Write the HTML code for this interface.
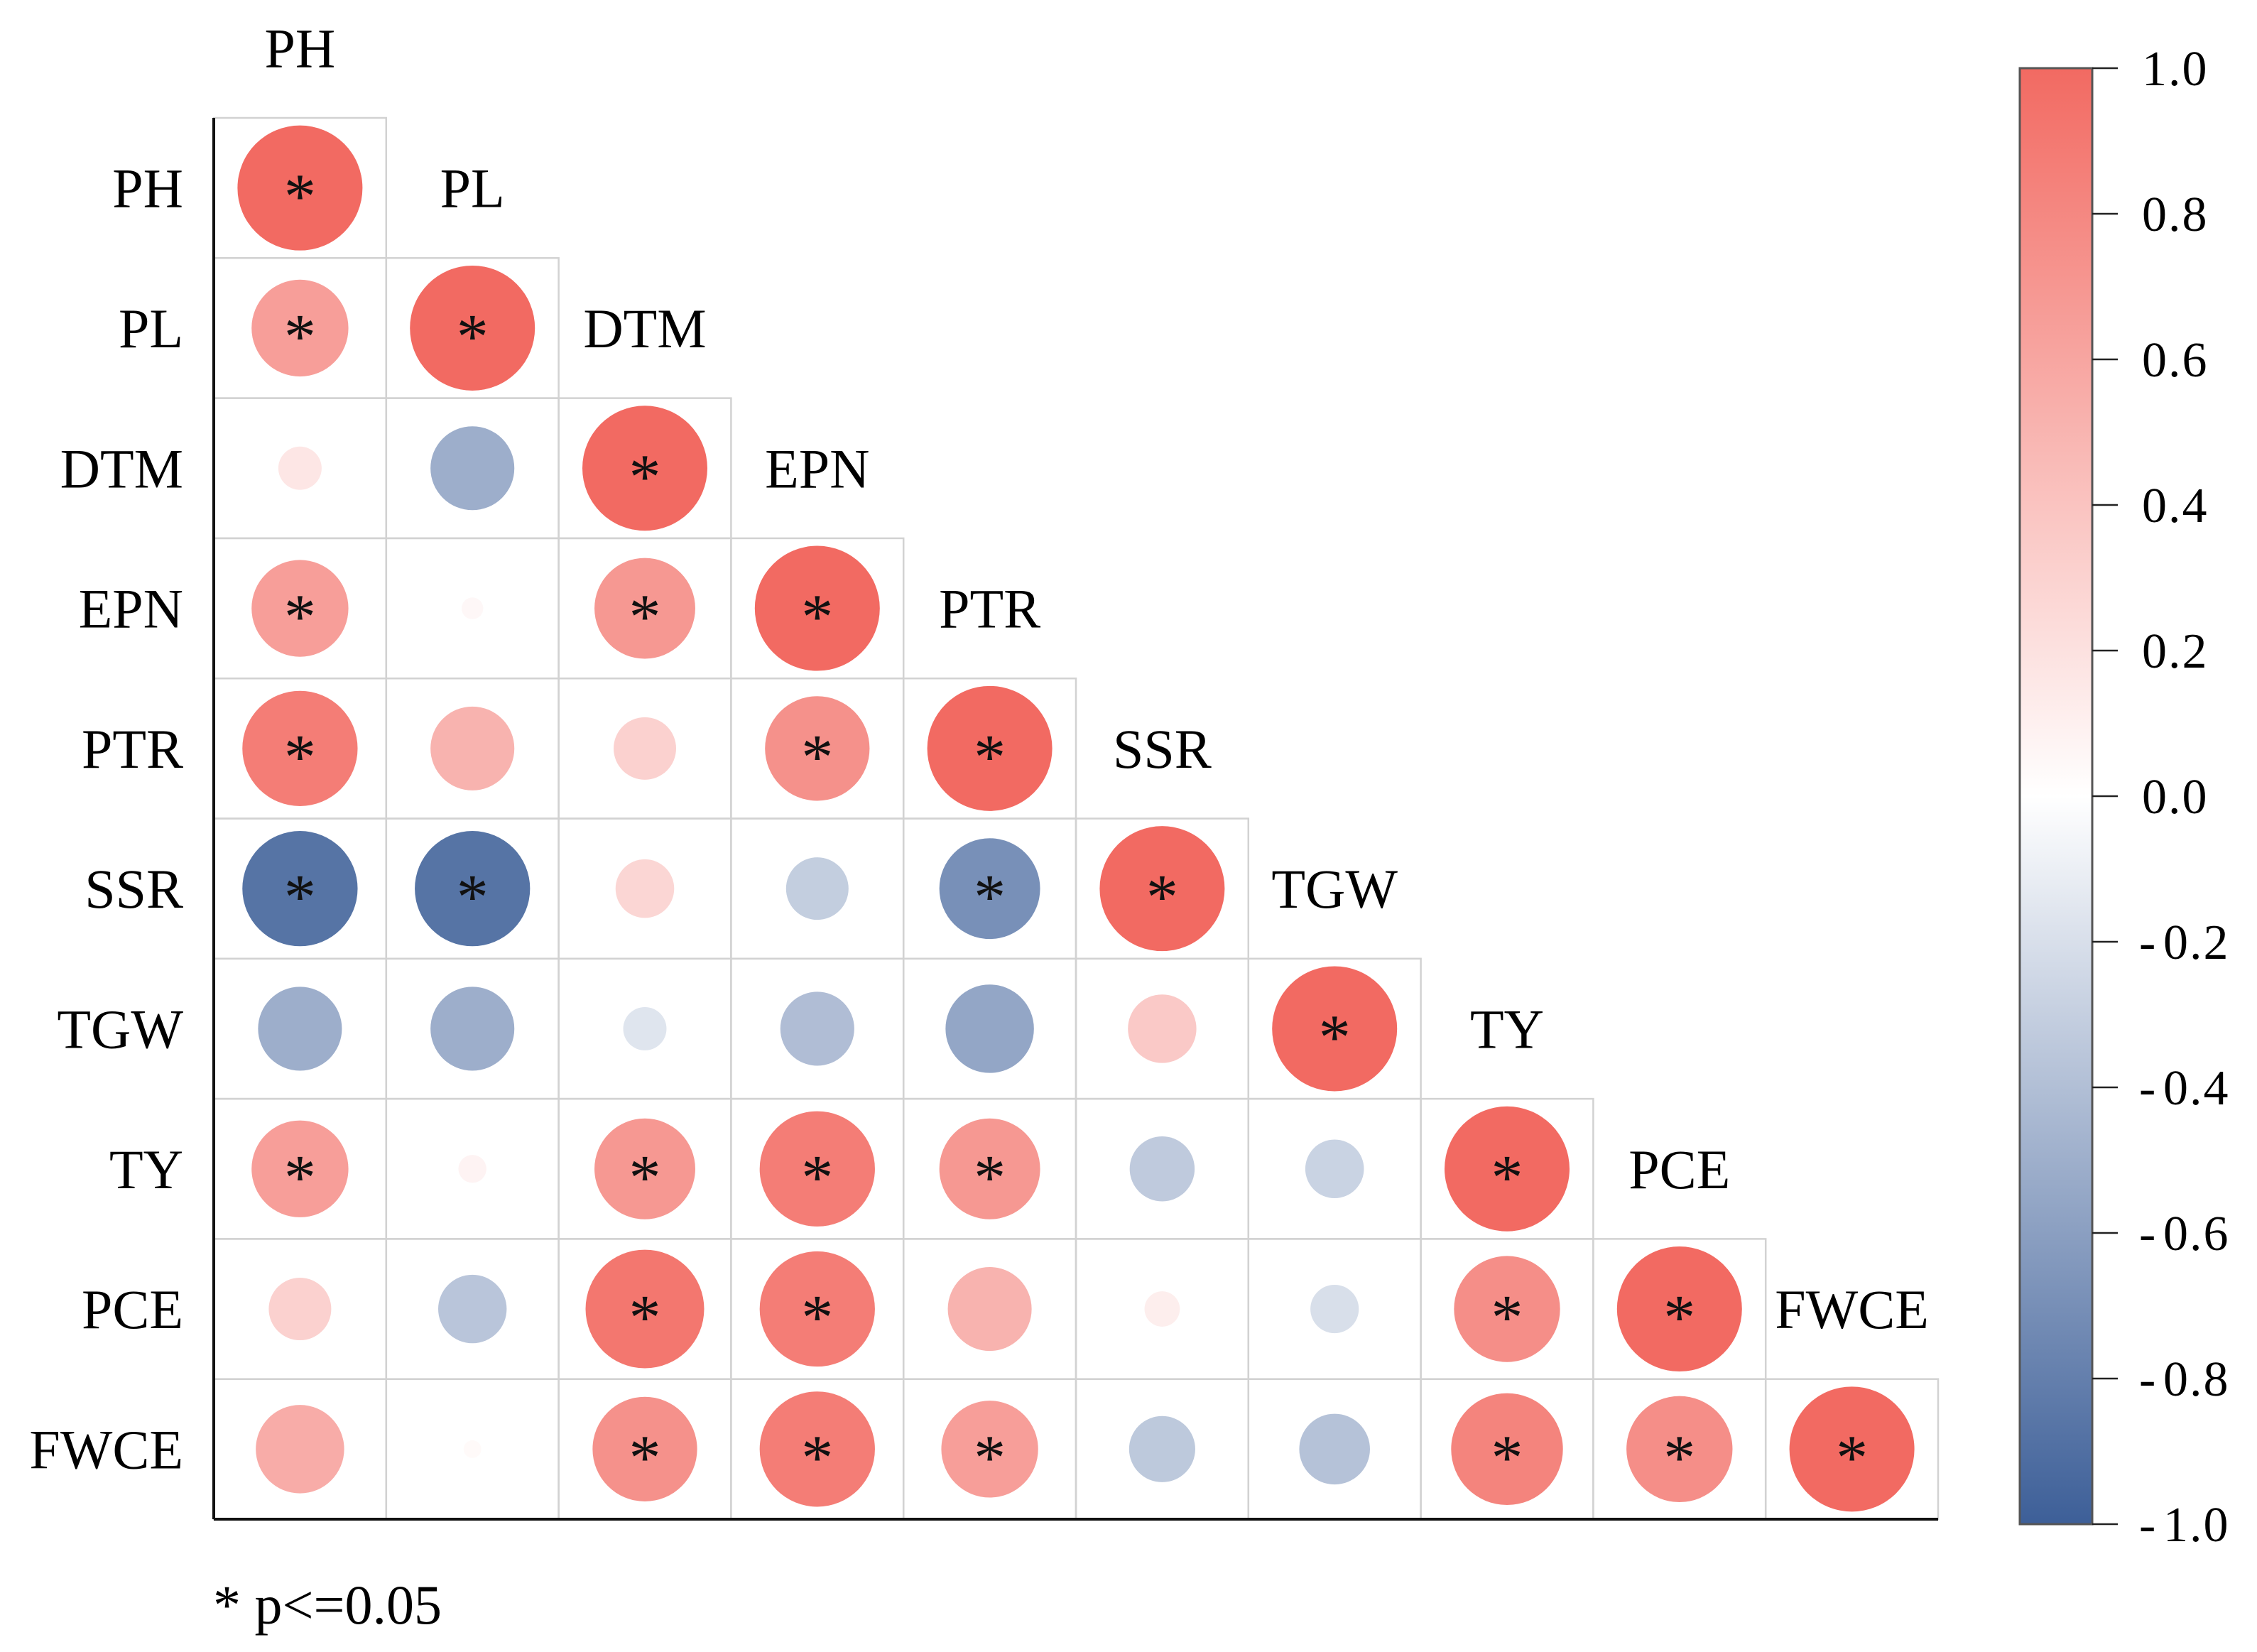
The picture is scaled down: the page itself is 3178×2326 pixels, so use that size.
<!DOCTYPE html>
<html><head><meta charset="utf-8"><style>
html,body{margin:0;padding:0;background:#fff;}
svg{display:block;font-family:"Liberation Serif",serif;}
</style></head><body>
<svg id="chart" width="3178" height="2326" viewBox="0 0 3178 2326" xmlns="http://www.w3.org/2000/svg">
<defs>
<linearGradient id="cbg" x1="0" y1="0" x2="0" y2="1">
<stop offset="0" stop-color="#F26A62"/>
<stop offset="0.5" stop-color="#FFFFFF"/>
<stop offset="1" stop-color="#3D5F98"/>
</linearGradient>
</defs>
<g id="grid"></g>
<g id="marks"></g>
<g id="labels"></g>
<g id="colorbar"></g>
<text x="300" y="2286" font-size="78">* p&lt;=0.05</text>
</svg>
<script>
const variables = ["PH","PL","DTM","EPN","PTR","SSR","TGW","TY","PCE","FWCE"];
const corrValues = [
 [1],
 [0.6, 1],
 [0.12, -0.45, 1],
 [0.6, 0.03, 0.65, 1],
 [0.85, 0.45, 0.25, 0.7, 1],
 [-0.85, -0.85, 0.22, -0.25, -0.65, 1],
 [-0.45, -0.45, -0.12, -0.35, -0.5, 0.3, 1],
 [0.6, 0.05, 0.65, 0.85, 0.65, -0.27, -0.22, 1],
 [0.25, -0.3, 0.9, 0.85, 0.45, 0.08, -0.15, 0.72, 1],
 [0.5, 0.02, 0.7, 0.85, 0.6, -0.28, -0.32, 0.8, 0.72, 1]
];
const significant = [
 [1],
 [1,1],
 [0,0,1],
 [1,0,1,1],
 [1,0,0,1,1],
 [1,1,0,0,1,1],
 [0,0,0,0,0,0,1],
 [1,0,1,1,1,0,0,1],
 [0,0,1,1,0,0,0,1,1],
 [0,0,1,1,1,0,0,1,1,1]
];
const colorbarTicks = [1.0, 0.8, 0.6, 0.4, 0.2, 0.0, -0.2, -0.4, -0.6, -0.8, -1.0];

const NS="http://www.w3.org/2000/svg";
const X0=301, Y0=166, CW=242.8, CH=197.3, RMAX=88;
const xOf = j => X0 + j*CW;
const yOf = i => Y0 + i*CH;
const rOf = v => RMAX*Math.sqrt(Math.abs(v));
function mix(a,b,t){return a.map((c,k)=>Math.round(c+(b[k]-c)*t));}
function colorOf(v){
  const w=[255,255,255], red=[242,106,98], blue=[61,95,152];
  const t=Math.pow(Math.min(1,Math.abs(v)),0.85);
  const c = v>=0 ? mix(w,red,t) : mix(w,blue,t);
  return `rgb(${c[0]},${c[1]},${c[2]})`;
}
function mk(tag,attrs,parent){const e=document.createElementNS(NS,tag);for(const k in attrs)e.setAttribute(k,attrs[k]);parent.appendChild(e);return e;}
const grid=document.getElementById('grid'), marks=document.getElementById('marks'), labels=document.getElementById('labels'), cb=document.getElementById('colorbar');
const n=variables.length;
for(let i=0;i<n;i++){
  for(let j=0;j<=i;j++){
    const cell=mk('rect',{x:xOf(j),y:yOf(i),width:CW,height:CH,fill:'none',stroke:'#d2d2d2','stroke-width':2.5},grid);
    
    
    const v=corrValues[i][j];
    const cx=xOf(j)+CW/2, cy=yOf(i)+CH/2;
    const c=mk('circle',{cx:cx,cy:cy,r:rOf(v),fill:colorOf(v)},marks);
    
    
    if(significant[i][j]){
      const s=mk('text',{x:cx,y:cy+42,'font-size':90,'text-anchor':'middle',fill:'#111'},marks);
      s.textContent='*';
      
      
    }
  }
  const rl=mk('text',{x:258,y:yOf(i)+CH/2+27,'font-size':78,'text-anchor':'end'},labels);
  rl.textContent=variables[i];
  
  
  const cl=mk('text',{x:xOf(i)+CW/2,y:yOf(i-1)+CH/2+27,'font-size':78,'text-anchor':'middle'},labels);
  cl.textContent=variables[i];
  
  
}
const ax1=mk('line',{x1:X0,y1:Y0,x2:X0,y2:Y0+n*CH,stroke:'#111','stroke-width':4},grid);


const ax2=mk('line',{x1:X0,y1:Y0+n*CH,x2:X0+n*CW,y2:Y0+n*CH,stroke:'#111','stroke-width':4},grid);



const CBX=2844, CBW=102, CBT=96, CBB=2146;
const cbY = v => CBT + (1-v)/2*(CBB-CBT);
const bar=mk('rect',{x:CBX,y:CBT,width:CBW,height:CBB-CBT,fill:'url(#cbg)',stroke:'#555','stroke-width':3},cb);


colorbarTicks.forEach(t=>{
  const y=cbY(t);
  const tl=mk('line',{x1:CBX+CBW,y1:y,x2:CBX+CBW+36,y2:y,stroke:'#222','stroke-width':2.5},cb);
  
  
  const lab=mk('text',{x:t<0?3046:3016,y:y+24,'font-size':70,'letter-spacing':'2'},cb);
  lab.textContent=Math.abs(t).toFixed(1);
  
  
  if(t<0){
    const m=mk('text',{x:3012,y:y+24,'font-size':70},cb);
    m.textContent='-';
    
    
  }
});
</script>
</body></html>
